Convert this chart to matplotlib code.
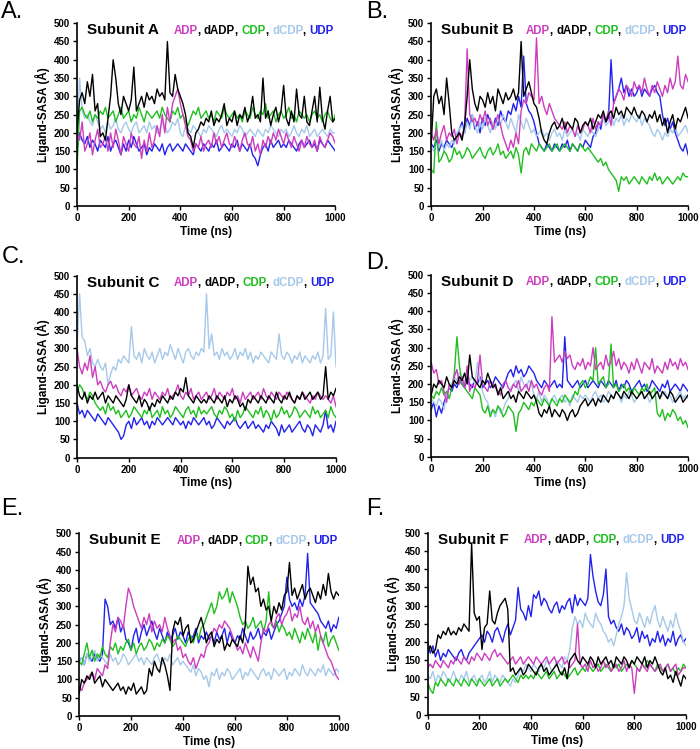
import numpy as np
import matplotlib
matplotlib.use("Agg")
from matplotlib import pyplot as plt
from matplotlib.offsetbox import TextArea, HPacker, AnchoredOffsetbox

plt.rcParams["font.family"] = ["Liberation Sans", "DejaVu Sans"]

# time grid (ns), one sample every 10 ns
time_ns = np.arange(0, 1001, 10)

ligands = ["ADP", "dADP", "CDP", "dCDP", "UDP"]
colors = {"ADP": "#cc3dbf", "dADP": "#000000", "CDP": "#1fbf1f",
          "dCDP": "#a6c9ea", "UDP": "#2222ee"}
draw_order = ["UDP", "dCDP", "CDP", "ADP", "dADP"]

# ---- Subunit A ----
A_ADP = [200, 180, 230, 150, 170, 200, 140, 180, 210, 160,
         170, 190, 150, 200, 160, 210, 180, 140, 190, 170,
         150, 200, 170, 160, 190, 130, 180, 150, 200, 160,
         180, 220, 190, 250, 200, 270, 230, 280, 300, 320,
         280, 250, 220, 190, 180, 150, 170, 160, 190, 150,
         170, 180, 160, 200, 170, 190, 160, 180, 200, 170,
         160, 190, 170, 150, 180, 200, 170, 160, 190, 150,
         170, 140, 180, 160, 190, 170, 200, 180, 210, 190,
         170, 200, 180, 160, 190, 170, 150, 180, 160, 190,
         170, 160, 180, 150, 190, 170, 160, 180, 200, 190,
         170]
A_dADP = [200, 290, 310, 280, 340, 300, 360, 260, 280, 190,
          200, 180, 240, 300, 400, 350, 280, 250, 300, 280,
          260, 290, 380, 260, 280, 300, 270, 310, 290, 300,
          280, 320, 300, 310, 290, 450, 310, 300, 360, 320,
          300, 280, 250, 200, 190, 160, 200, 210, 230, 220,
          240, 230, 260, 220, 240, 230, 250, 280, 220, 240,
          230, 260, 220, 250, 240, 270, 230, 250, 300, 240,
          250, 230, 350, 240, 260, 220, 250, 270, 230, 260,
          330, 240, 220, 260, 230, 320, 250, 240, 300, 230,
          220, 260, 300, 230, 325, 240, 210, 260, 300, 230,
          240]
A_CDP = [100, 260, 270, 250, 240, 260, 230, 250, 240, 260,
         250, 270, 240, 250, 260, 230, 250, 270, 240, 250,
         260, 230, 250, 240, 270, 250, 230, 260, 250, 240,
         250, 260, 240, 270, 250, 240, 230, 260, 250, 270,
         240, 250, 230, 220, 240, 260, 250, 270, 240, 250,
         260, 240, 250, 230, 260, 250, 240, 270, 250, 240,
         250, 260, 240, 250, 230, 260, 250, 240, 270, 250,
         240, 260, 250, 280, 240, 250, 260, 230, 250, 260,
         240, 250, 270, 240, 250, 230, 260, 250, 240, 250,
         230, 250, 260, 240, 250, 230, 250, 260, 240, 230,
         250]
A_dCDP = [200, 350, 260, 240, 250, 230, 220, 250, 230, 210,
          220, 200, 230, 210, 220, 240, 210, 200, 220, 230,
          210, 200, 220, 230, 200, 210, 220, 200, 230, 210,
          220, 200, 210, 230, 220, 200, 210, 230, 220, 240,
          200, 190, 220, 210, 200, 220, 210, 200, 190, 210,
          200, 220, 210, 200, 190, 210, 220, 200, 210, 200,
          190, 210, 200, 220, 210, 190, 200, 210, 200, 190,
          210, 200, 190, 210, 200, 220, 210, 200, 190, 210,
          200, 210, 190, 200, 220, 200, 190, 210, 200, 220,
          190, 200, 210, 190, 200, 210, 200, 190, 210, 200,
          200]
A_UDP = [150, 200, 180, 170, 190, 160, 180, 170, 150, 180,
         170, 160, 190, 150, 170, 180, 160, 140, 170, 150,
         180, 160, 190, 170, 150, 160, 170, 140, 160, 150,
         170, 160, 150, 170, 140, 160, 170, 150, 160, 170,
         160, 150, 170, 160, 150, 140, 170, 160, 150, 170,
         160, 150, 170, 160, 180, 150, 160, 170, 160, 150,
         170, 160, 180, 150, 170, 160, 150, 170, 140, 130,
         110, 140, 160, 170, 150, 180, 160, 170, 180, 160,
         170, 160, 180, 170, 160, 150, 170, 180, 160, 170,
         180, 160, 170, 150, 180, 170, 160, 180, 170, 160,
         150]

# ---- Subunit B ----
B_ADP = [200, 180, 210, 170, 200, 220, 180, 200, 190, 210,
         170, 200, 190, 220, 430, 250, 230, 240, 220, 250,
         230, 260, 220, 240, 210, 230, 250, 220, 190, 170,
         150, 180, 160, 200, 170, 260, 290, 280, 310, 300,
         290, 460, 280, 300, 270, 250, 280, 260, 240, 230,
         220, 210, 230, 200, 220, 210, 190, 220, 200, 210,
         230, 220, 200, 240, 210, 230, 220, 250, 230, 260,
         220, 280, 300, 320, 310, 290, 330, 320, 300, 340,
         320, 330, 310, 350, 320, 300, 330, 310, 340, 320,
         300, 330, 310, 350, 320, 340, 410, 330, 320, 360,
         340]
B_dADP = [170, 300, 320, 280, 300, 250, 350, 280, 200, 180,
          190, 200, 180, 220, 300, 400, 320, 280, 260, 300,
          290, 270, 310, 280, 300, 260, 320, 300, 280, 310,
          290, 300, 320, 290, 310, 450, 300, 320, 340, 310,
          280, 270, 240, 200, 180, 170, 200, 220, 230, 210,
          220, 240, 210, 230, 220, 210, 240, 230, 200, 220,
          230, 220, 240, 210, 230, 250, 240, 260, 230, 250,
          260, 240, 270, 250, 260, 240, 270, 260, 250, 270,
          250, 240, 260, 250, 230, 250, 240, 260, 230, 250,
          220, 240, 200, 230, 250, 210, 240, 230, 250, 270,
          240]
B_CDP = [100, 90, 230, 120, 130, 150, 140, 120, 130, 160,
         140, 150, 130, 140, 160, 150, 130, 140, 150, 160,
         140, 130, 150, 160, 140, 150, 170, 140, 150, 130,
         140, 150, 130, 160, 140, 90, 150, 160, 140, 170,
         160, 150, 170, 160, 150, 160, 170, 150, 160, 170,
         150, 160, 170, 160, 150, 170, 160, 150, 170, 160,
         150, 160, 150, 140, 130, 120, 130, 110, 120, 100,
         90, 80, 70, 40, 80, 70, 80, 60, 70, 80,
         70, 60, 80, 70, 60, 80, 70, 90, 70, 80,
         60, 70, 80, 70, 60, 70, 80, 70, 90, 80,
         80]
B_dCDP = [160, 150, 170, 160, 180, 150, 170, 160, 180, 170,
          200, 210, 220, 200, 230, 210, 250, 220, 200, 230,
          210, 240, 220, 200, 230, 210, 240, 220, 250, 230,
          210, 240, 220, 200, 250, 230, 210, 240, 220, 200,
          210, 190, 200, 210, 190, 200, 180, 200, 210, 190,
          200, 180, 210, 190, 200, 210, 190, 200, 180, 210,
          200, 190, 210, 200, 190, 210, 230, 240, 220, 230,
          250, 220, 240, 230, 250, 220, 240, 230, 250, 240,
          230, 250, 220, 240, 230, 220, 200, 190, 210, 200,
          180, 200, 190, 210, 200, 220, 190, 200, 210, 220,
          200]
B_UDP = [170, 160, 180, 150, 170, 160, 180, 170, 160, 180,
         190, 210, 230, 200, 240, 220, 250, 210, 230, 200,
         240, 220, 250, 230, 210, 240, 220, 260, 240, 230,
         260, 250, 280, 260, 300, 270, 410, 280, 260, 250,
         230, 200, 170, 160, 150, 170, 160, 150, 170, 160,
         150, 170, 160, 180, 150, 170, 160, 150, 170, 160,
         180, 170, 160, 190, 200, 230, 210, 250, 230, 240,
         400, 280, 300, 320, 350, 310, 330, 300, 320, 300,
         310, 330, 300, 320, 310, 300, 320, 330, 310, 300,
         250, 220, 240, 210, 230, 200, 180, 160, 150, 170,
         140]

# ---- Subunit C ----
C_ADP = [300, 250, 230, 260, 240, 280, 220, 250, 200, 210,
         190, 180, 200, 210, 190, 200, 180, 170, 190, 180,
         200, 170, 180, 190, 170, 160, 180, 170, 190, 160,
         180, 170, 160, 180, 170, 190, 160, 170, 180, 200,
         170, 160, 180, 170, 190, 160, 170, 180, 160, 170,
         180, 160, 170, 190, 160, 180, 170, 160, 180, 170,
         190, 160, 170, 150, 180, 160, 170, 180, 160, 170,
         180, 160, 190, 170, 160, 180, 170, 160, 180, 170,
         160, 180, 170, 160, 150, 170, 160, 180, 170, 160,
         150, 170, 160, 180, 170, 160, 170, 160, 150, 170,
         140]
C_dADP = [200, 170, 160, 180, 150, 170, 160, 180, 160, 170,
          180, 150, 170, 160, 150, 170, 160, 150, 140, 160,
          200, 170, 160, 150, 170, 140, 160, 150, 130, 150,
          140, 160, 150, 170, 160, 150, 170, 160, 180, 170,
          190, 180, 220, 170, 160, 150, 170, 160, 150, 160,
          150, 170, 160, 150, 170, 160, 150, 170, 140, 160,
          150, 170, 160, 140, 150, 130, 160, 150, 170, 160,
          150, 170, 160, 150, 170, 160, 150, 180, 160, 150,
          170, 160, 180, 160, 150, 170, 160, 180, 160, 170,
          180, 160, 170, 180, 160, 170, 250, 160, 180, 170,
          190]
C_CDP = [180, 200, 190, 170, 160, 180, 170, 150, 140, 130,
         140, 120, 150, 130, 140, 120, 130, 110, 120, 130,
         110, 120, 140, 130, 120, 110, 130, 120, 140, 110,
         120, 130, 110, 140, 120, 130, 110, 120, 140, 130,
         120, 110, 130, 140, 120, 130, 110, 140, 120, 130,
         120, 130, 140, 120, 110, 130, 120, 140, 130, 110,
         120, 100, 130, 110, 120, 140, 130, 120, 110, 130,
         120, 140, 110, 130, 120, 100, 130, 110, 120, 140,
         120, 130, 110, 120, 140, 130, 110, 120, 130, 120,
         110, 140, 120, 130, 110, 120, 130, 110, 140, 120,
         110]
C_dCDP = [300, 450, 330, 320, 280, 300, 260, 250, 270, 250,
          240, 260, 200, 230, 250, 240, 270, 260, 280, 270,
          260, 360, 280, 270, 290, 260, 300, 280, 270, 290,
          260, 280, 300, 270, 290, 280, 310, 290, 270, 300,
          280, 260, 290, 300, 280, 270, 290, 280, 300, 290,
          450, 300, 340, 280, 290, 270, 300, 280, 290, 270,
          280, 300, 270, 290, 280, 300, 270, 290, 260, 280,
          270, 290, 280, 270, 260, 290, 280, 270, 340, 280,
          270, 290, 280, 260, 280, 270, 290, 260, 280, 270,
          260, 280, 270, 290, 260, 280, 410, 270, 280, 400,
          250]
C_UDP = [150, 120, 130, 110, 130, 120, 110, 100, 120, 110,
         100, 90, 110, 100, 90, 80, 70, 50, 60, 90,
         100, 80, 110, 90, 100, 110, 90, 100, 80, 100,
         90, 110, 100, 90, 100, 110, 100, 90, 110, 100,
         90, 100, 80, 100, 90, 110, 100, 90, 100, 110,
         90, 100, 80, 90, 110, 100, 90, 80, 100, 90,
         100, 110, 90, 80, 90, 100, 80, 90, 100, 80,
         90, 80, 70, 90, 80, 100, 90, 80, 60, 90,
         70, 80, 90, 70, 80, 90, 100, 80, 70, 90,
         80, 60, 90, 80, 70, 90, 130, 80, 90, 70,
         100]

# ---- Subunit D ----
D_ADP = [260, 230, 240, 200, 210, 180, 150, 200, 190, 220,
         240, 200, 220, 190, 250, 180, 200, 190, 210, 280,
         200, 190, 180, 210, 200, 190, 180, 170, 200, 210,
         190, 180, 200, 190, 210, 180, 190, 200, 180, 210,
         190, 200, 180, 170, 190, 200, 180, 385, 260, 270,
         280, 260, 290, 270, 280, 250, 240, 260, 250, 270,
         240, 260, 250, 300, 240, 250, 260, 240, 280, 250,
         260, 290, 250, 270, 240, 260, 250, 230, 260, 240,
         270, 250, 230, 260, 250, 240, 270, 230, 250, 240,
         230, 260, 240, 270, 250, 260, 240, 270, 250, 260,
         240]
D_dADP = [170, 200, 190, 210, 200, 190, 220, 200, 190, 210,
          200, 220, 210, 230, 200, 280, 220, 210, 200, 190,
          210, 200, 230, 210, 190, 200, 170, 190, 160, 170,
          180, 160, 170, 150, 180, 170, 160, 180, 170, 160,
          170, 150, 120, 110, 130, 120, 140, 110, 130, 120,
          110, 130, 120, 100, 120, 130, 110, 120, 140, 150,
          160, 140, 150, 160, 140, 160, 150, 170, 160, 150,
          170, 160, 180, 170, 160, 180, 170, 160, 180, 170,
          160, 170, 180, 160, 170, 180, 160, 170, 180, 160,
          180, 170, 160, 180, 170, 150, 160, 170, 150, 160,
          170]
D_CDP = [170, 160, 180, 170, 190, 170, 180, 160, 190, 230,
         330, 250, 200, 190, 180, 170, 160, 190, 180, 170,
         130, 120, 140, 110, 130, 120, 140, 130, 110, 120,
         140, 130, 120, 70, 120, 130, 150, 140, 130, 150,
         140, 160, 150, 140, 160, 150, 140, 160, 150, 140,
         160, 150, 170, 160, 150, 160, 180, 170, 200, 210,
         190, 200, 220, 210, 300, 200, 210, 220, 190, 200,
         310, 190, 200, 180, 190, 200, 180, 190, 170, 190,
         180, 170, 190, 180, 200, 170, 180, 190, 120, 110,
         130, 100, 120, 110, 130, 120, 100, 110, 90, 100,
         80]
D_dCDP = [160, 150, 140, 160, 150, 130, 170, 190, 200, 220,
          210, 230, 220, 200, 240, 210, 220, 200, 260, 210,
          180, 160, 150, 120, 130, 110, 140, 120, 130, 150,
          160, 190, 200, 210, 180, 220, 200, 190, 210, 200,
          170, 160, 180, 150, 170, 160, 140, 160, 170, 150,
          160, 170, 150, 160, 140, 170, 160, 150, 170, 160,
          170, 160, 150, 170, 180, 160, 170, 150, 160, 180,
          170, 160, 180, 170, 150, 170, 160, 180, 170, 150,
          160, 170, 180, 160, 170, 150, 160, 170, 180, 160,
          170, 180, 160, 170, 150, 160, 170, 180, 160, 170,
          160]
D_UDP = [130, 150, 110, 140, 120, 150, 170, 190, 180, 200,
         190, 210, 200, 190, 220, 200, 190, 210, 200, 220,
         190, 200, 210, 190, 200, 220, 210, 200, 190, 210,
         230, 240, 220, 250, 230, 240, 220, 230, 250, 240,
         230, 210, 200, 190, 210, 200, 190, 200, 210, 190,
         200, 190, 330, 210, 200, 190, 200, 210, 190, 200,
         210, 190, 200, 210, 200, 190, 210, 200, 190, 210,
         200, 190, 210, 180, 200, 190, 210, 200, 180, 190,
         200, 210, 190, 200, 180, 190, 210, 200, 190, 180,
         200, 190, 210, 180, 190, 200, 190, 180, 200, 190,
         180]

# ---- Subunit E ----
E_ADP = [80, 70, 90, 100, 110, 120, 100, 130, 120, 110,
         140, 130, 200, 250, 230, 270, 260, 240, 300, 350,
         330, 300, 280, 260, 240, 270, 250, 280, 230, 260,
         240, 250, 230, 270, 240, 220, 200, 210, 180, 190,
         160, 170, 150, 140, 160, 130, 150, 170, 160, 190,
         200, 220, 240, 230, 250, 240, 260, 250, 240, 220,
         200, 180, 190, 170, 200, 180, 160, 190, 170, 150,
         200, 240, 230, 250, 260, 240, 270, 280, 250, 270,
         280, 300, 260, 280, 270, 300, 260, 250, 270, 240,
         260, 230, 250, 220, 200, 180, 160, 150, 130, 110,
         100]
E_dADP = [60, 100, 90, 110, 100, 120, 90, 100, 110, 80,
          100, 90, 80, 70, 80, 90, 70, 80, 60, 80,
          70, 90, 60, 70, 80, 60, 70, 130, 110, 150,
          130, 120, 160, 140, 110, 70, 230, 260, 250, 270,
          220, 240, 250, 200, 210, 230, 250, 270, 240, 200,
          220, 230, 190, 210, 200, 220, 180, 200, 190, 210,
          200, 190, 220, 200, 250, 410, 360, 380, 340, 350,
          300, 320, 290, 300, 260, 300, 280, 310, 290, 330,
          340, 420, 330, 350, 320, 340, 360, 320, 340, 350,
          330, 310, 340, 320, 360, 330, 390, 340, 320, 340,
          330]
E_CDP = [150, 140, 170, 200, 160, 180, 150, 170, 160, 190,
         170, 160, 190, 180, 200, 170, 190, 180, 200, 210,
         180, 200, 170, 190, 200, 180, 190, 210, 200, 180,
         200, 190, 210, 200, 220, 210, 190, 200, 220, 210,
         200, 190, 210, 220, 200, 230, 210, 240, 250, 270,
         290, 310, 280, 300, 340, 320, 330, 350, 310, 340,
         320, 300, 270, 250, 260, 240, 250, 270, 240, 250,
         260, 230, 260, 340, 250, 240, 260, 230, 250, 240,
         220, 230, 210, 240, 220, 200, 230, 210, 240, 220,
         200, 230, 180, 220, 200, 230, 190, 210, 220, 200,
         180]
E_dCDP = [150, 160, 140, 170, 150, 160, 180, 150, 170, 160,
          150, 140, 170, 150, 160, 140, 150, 170, 160, 140,
          150, 160, 170, 150, 160, 140, 160, 150, 140, 160,
          170, 150, 140, 160, 150, 170, 140, 150, 160, 140,
          150, 140, 130, 120, 140, 110, 130, 120, 100, 110,
          80, 120, 110, 130, 100, 120, 110, 130, 120, 100,
          110, 120, 130, 100, 120, 110, 130, 120, 110, 100,
          120, 130, 110, 120, 100, 130, 120, 110, 120, 130,
          100, 120, 110, 130, 120, 110, 140, 120, 110, 130,
          120, 110, 130, 120, 140, 110, 130, 120, 110, 130,
          120]
E_UDP = [150, 160, 140, 170, 160, 150, 170, 160, 150, 170,
         320, 300, 250, 260, 240, 270, 230, 250, 210, 200,
         180, 220, 240, 200, 230, 250, 220, 240, 260, 230,
         210, 240, 220, 200, 230, 210, 220, 240, 210, 230,
         220, 200, 230, 210, 220, 240, 200, 220, 210, 230,
         210, 220, 200, 230, 210, 220, 240, 200, 230, 210,
         200, 220, 210, 240, 220, 200, 230, 210, 220, 240,
         210, 230, 220, 240, 210, 230, 250, 260, 280, 300,
         380, 320, 300, 310, 290, 320, 300, 330, 445, 310,
         300, 290, 280, 260, 250, 240, 260, 230, 250, 240,
         270]

# ---- Subunit F ----
F_ADP = [130, 140, 130, 150, 140, 130, 150, 140, 130, 150,
         140, 160, 150, 140, 160, 150, 140, 160, 150, 170,
         160, 150, 170, 160, 150, 170, 180, 160, 170, 160,
         150, 140, 150, 160, 140, 150, 160, 140, 150, 160,
         150, 140, 160, 150, 140, 150, 160, 140, 150, 160,
         140, 150, 160, 140, 150, 130, 140, 150, 250, 140,
         130, 140, 120, 150, 130, 140, 120, 130, 150, 130,
         140, 120, 130, 140, 120, 130, 150, 120, 140, 130,
         60, 130, 120, 140, 130, 120, 140, 130, 120, 130,
         140, 120, 130, 140, 120, 130, 140, 110, 120, 130,
         130]
F_dADP = [170, 190, 170, 180, 220, 210, 230, 220, 240, 220,
          230, 220, 240, 230, 250, 240, 230, 470, 280, 260,
          270, 180, 240, 250, 340, 260, 250, 280, 300, 310,
          320, 290, 120, 130, 110, 120, 130, 110, 120, 140,
          130, 120, 110, 130, 140, 120, 130, 110, 120, 130,
          140, 120, 110, 130, 100, 150, 160, 170, 150, 140,
          160, 150, 140, 160, 150, 130, 160, 140, 150, 160,
          140, 150, 130, 160, 150, 140, 160, 150, 130, 150,
          140, 160, 150, 140, 160, 130, 150, 140, 160, 140,
          120, 110, 130, 100, 110, 90, 120, 100, 80, 110,
          100]
F_CDP = [90, 70, 60, 90, 80, 100, 90, 80, 100, 90,
         80, 100, 90, 80, 100, 90, 80, 100, 90, 80,
         100, 90, 80, 90, 100, 80, 90, 100, 80, 90,
         100, 90, 100, 110, 100, 90, 110, 100, 110, 100,
         110, 100, 120, 110, 100, 110, 120, 100, 110, 120,
         100, 110, 120, 110, 100, 110, 120, 130, 110, 120,
         130, 120, 140, 130, 120, 130, 140, 120, 130, 140,
         130, 120, 140, 130, 140, 120, 130, 140, 130, 150,
         140, 130, 120, 140, 130, 150, 140, 130, 120, 140,
         130, 120, 130, 140, 120, 130, 110, 130, 120, 140,
         130]
F_dCDP = [110, 100, 120, 90, 110, 100, 120, 110, 90, 100,
          120, 100, 90, 110, 100, 120, 90, 100, 110, 90,
          100, 110, 90, 100, 120, 90, 110, 100, 90, 110,
          100, 90, 80, 100, 90, 110, 130, 120, 140, 130,
          120, 140, 130, 120, 140, 130, 150, 140, 120, 130,
          150, 140, 130, 160, 150, 180, 240, 270, 250, 260,
          240, 280, 260, 250, 240, 280, 260, 250, 230, 220,
          200, 210, 190, 220, 250, 270, 300, 390, 320, 290,
          260, 250, 280, 260, 240, 270, 250, 280, 300, 260,
          240, 270, 250, 230, 260, 240, 280, 250, 230, 200,
          190]
F_UDP = [200, 170, 190, 160, 180, 150, 170, 160, 180, 170,
         160, 150, 170, 180, 160, 150, 170, 180, 190, 200,
         210, 220, 200, 230, 220, 200, 230, 240, 220, 200,
         230, 250, 220, 240, 260, 350, 290, 280, 260, 300,
         270, 330, 320, 340, 300, 320, 310, 290, 280, 300,
         310, 280, 300, 290, 310, 320, 280, 330, 300, 320,
         310, 300, 320, 440, 380, 340, 310, 300, 330, 400,
         270, 250, 260, 240, 230, 250, 220, 240, 230, 210,
         220, 240, 200, 230, 210, 220, 190, 210, 200, 230,
         200, 220, 190, 210, 200, 230, 190, 210, 220, 200,
         210]

panels = [
    ("A.", "Subunit A", dict(ADP=A_ADP, dADP=A_dADP, CDP=A_CDP, dCDP=A_dCDP, UDP=A_UDP)),
    ("B.", "Subunit B", dict(ADP=B_ADP, dADP=B_dADP, CDP=B_CDP, dCDP=B_dCDP, UDP=B_UDP)),
    ("C.", "Subunit C", dict(ADP=C_ADP, dADP=C_dADP, CDP=C_CDP, dCDP=C_dCDP, UDP=C_UDP)),
    ("D.", "Subunit D", dict(ADP=D_ADP, dADP=D_dADP, CDP=D_CDP, dCDP=D_dCDP, UDP=D_UDP)),
    ("E.", "Subunit E", dict(ADP=E_ADP, dADP=E_dADP, CDP=E_CDP, dCDP=E_dCDP, UDP=E_UDP)),
    ("F.", "Subunit F", dict(ADP=F_ADP, dADP=F_dADP, CDP=F_CDP, dCDP=F_dCDP, UDP=F_UDP)),
]

# axes rectangles in figure fractions [left, bottom, width, height]
rects = [
    [0.110, 0.725, 0.369, 0.244],
    [0.616, 0.725, 0.367, 0.244],
    [0.110, 0.389, 0.370, 0.243],
    [0.616, 0.390, 0.367, 0.243],
    [0.113, 0.044, 0.371, 0.244],
    [0.611, 0.045, 0.369, 0.244],
]
letter_pos = [(0.002, 0.998), (0.523, 0.998), (0.002, 0.672), (0.523, 0.663),
              (0.002, 0.335), (0.523, 0.335)]

fig = plt.figure(figsize=(7.0, 7.49), dpi=100)

for (letter, title, series), rect, lpos in zip(panels, rects, letter_pos):
    ax = fig.add_axes(rect)
    for name in draw_order:
        vals = series[name]
        ax.plot(time_ns[:len(vals)], vals, color=colors[name], lw=1.0)
    ax.set_xlim(0, 1000)
    ax.set_ylim(0, 500)
    ax.set_xticks(range(0, 1001, 200))
    ax.set_yticks(range(0, 501, 50))
    for side in ("top", "right"):
        ax.spines[side].set_visible(False)
    for side in ("left", "bottom"):
        ax.spines[side].set_linewidth(1.2)
    ax.tick_params(direction="out", length=3, width=1.0, labelsize=7, pad=2)
    for lab in ax.get_xticklabels() + ax.get_yticklabels():
        lab.set_fontweight("bold")
    ax.set_xlabel("Time (ns)", fontsize=8.5, fontweight="bold", labelpad=2)
    ax.set_ylabel("Ligand-SASA (Å)", fontsize=8.5, fontweight="bold", labelpad=3)

    ax.text(0.04, 1.0, title, transform=ax.transAxes, fontsize=11,
            fontweight="bold", va="top", ha="left")

    # multi-coloured ligand list
    parts = []
    for i, name in enumerate(ligands):
        parts.append(TextArea(name, textprops=dict(color=colors[name], fontsize=8.3,
                                                   fontweight="bold")))
        if i < len(ligands) - 1:
            parts.append(TextArea(", ", textprops=dict(color="black", fontsize=8.3,
                                                       fontweight="bold")))
    box = HPacker(children=parts, align="baseline", pad=0, sep=0)
    anch = AnchoredOffsetbox(loc="upper right", child=box, pad=0, borderpad=0.1,
                             frameon=False, bbox_to_anchor=(1.0, 1.0),
                             bbox_transform=ax.transAxes)
    ax.add_artist(anch)

    fig.text(lpos[0], lpos[1], letter, fontsize=17, ha="left", va="top")

fig.savefig("out.png", dpi=100)
